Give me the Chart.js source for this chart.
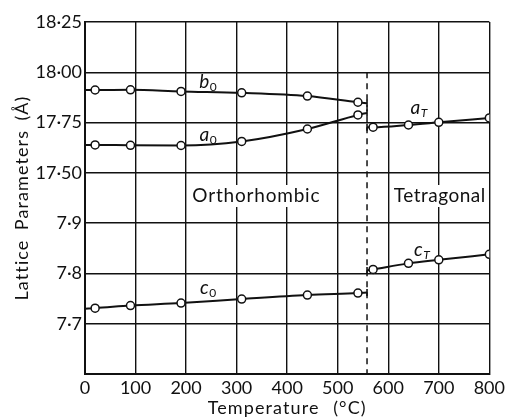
<!DOCTYPE html>
<html><head><meta charset="utf-8">
<script src="https://cdn.jsdelivr.net/npm/chart.js@4/dist/chart.umd.min.js"></script>
<style>html,body{margin:0;padding:0;background:#fff}#wrap{width:508px;height:419px;position:relative}</style>
</head><body><div id="wrap"><canvas id="c"></canvas></div>
<script>
// ---- data ----
const orthoTemps = [20, 90, 190, 310, 440, 540];
const b0Values = [17.912, 17.913, 17.905, 17.898, 17.882, 17.851];
const a0Values = [17.639, 17.637, 17.636, 17.656, 17.718, 17.788];
const c0Values = [7.731, 7.736, 7.741, 7.749, 7.757, 7.761];
const tetraTemps = [570, 640, 700, 800];
const aTValues = [17.727, 17.738, 17.751, 17.773];
const cTValues = [7.808, 7.820, 7.827, 7.838];
const transitionTemp = 558;
const orthoStartTemp = 0;
const b0LineEnds = [17.912, 17.846];
const a0LineEnds = [17.639, 17.798];
const c0LineEnds = [7.730, 7.762];
const aTLineStart = 17.727;
const cTLineStart = 7.806;
const xTicks = [0, 100, 200, 300, 400, 500, 600, 700, 800];
const yTickLabels = ['', '7·7', '7·8', '7·9', '17·50', '17·75', '18·00', '18·25'];

// broken axis: lower band 7.6–7.9 (0.1 per step), upper band 17.50–18.25 (0.25 per step)
function toAxis(v) { return v > 10 ? 4 + (v - 17.5) / 0.25 : (v - 7.6) / 0.1; }

const FONT = 'Lato';
const INK = '#111';

function orthoSeries(vals, ends) {
  const pts = [{x: orthoStartTemp, y: toAxis(ends[0])}];
  orthoTemps.forEach((t, i) => pts.push({x: t, y: toAxis(vals[i])}));
  pts.push({x: transitionTemp, y: toAxis(ends[1])});
  return pts;
}
function tetraSeries(vals, start) {
  const pts = [{x: transitionTemp, y: toAxis(start)}];
  tetraTemps.forEach((t, i) => pts.push({x: t, y: toAxis(vals[i])}));
  return pts;
}
function radii(n, skipFirst, skipLast) {
  return Array.from({length: n}, (_, i) => ((skipFirst && i === 0) || (skipLast && i === n - 1)) ? 0 : 4);
}
function lineDs(data, r, endIdx) {
  return {data, pointRadius: r, pointHoverRadius: r, borderColor: INK, borderWidth: 2,
    pointBackgroundColor: '#fff', pointBorderColor: INK, pointBorderWidth: 1.5,
    cubicInterpolationMode: 'monotone', fill: false, endTick: endIdx};
}

const b0 = orthoSeries(b0Values, b0LineEnds);
const a0 = orthoSeries(a0Values, a0LineEnds);
const c0 = orthoSeries(c0Values, c0LineEnds);
const aT = tetraSeries(aTValues, aTLineStart);
const cT = tetraSeries(cTValues, cTLineStart);

const datasets = [
  {data: [{x: transitionTemp, y: toAxis(18.0)}, {x: transitionTemp, y: 0}], borderColor: INK, borderWidth: 1.5,
   borderDash: [6, 5], pointRadius: 0, fill: false},
  lineDs(b0, radii(b0.length, true, true), b0.length - 1),
  lineDs(a0, radii(a0.length, true, true), a0.length - 1),
  lineDs(c0, radii(c0.length, true, true), c0.length - 1),
  lineDs(aT, radii(aT.length, true, false), 0),
  lineDs(cT, radii(cT.length, true, false), 0),
];

// text annotations (positions in data units)
const seriesLabels = [
  {main: 'b', sub: '0', x: 244, y: 5.79},
  {main: 'a', sub: '0', x: 244, y: 4.73},
  {main: 'c', sub: '0', x: 244, y: 1.70},
  {main: 'a', sub: 'T', x: 661, y: 5.27},
  {main: 'c', sub: 'T', x: 667, y: 2.44},
];
const regionLabels = [
  {text: 'Orthorhombic', x: 339, y: 3.54, w: 128},
  {text: 'Tetragonal', x: 702, y: 3.54, w: 92},
];

function spacedText(ctx, text, cx, cy, target, ls) {
  ctx.letterSpacing = ls + 'px';
  ctx.wordSpacing = '0px';
  const w = ctx.measureText(text).width;
  const nSpaces = (text.match(/ /g) || []).length;
  if (nSpaces > 0) {
    ctx.wordSpacing = Math.max(0, (target - w) / nSpaces) + 'px';
  } else {
    ctx.letterSpacing = (ls + Math.max(0, (target - w) / text.length)) + 'px';
  }
  ctx.fillText(text, cx, cy);
  ctx.letterSpacing = '0px';
  ctx.wordSpacing = '0px';
}

const decor = {
  id: 'decor',
  beforeDatasetsDraw(chart) {
    const {ctx, scales: {x, y}} = chart;
    ctx.save();
    ctx.font = '19px ' + FONT;
    ctx.textAlign = 'center'; ctx.textBaseline = 'middle';
    regionLabels.forEach(l => {
      const px = x.getPixelForValue(l.x), py = y.getPixelForValue(l.y);
      ctx.fillStyle = '#fff';
      ctx.fillRect(px - l.w / 2 - 3, py - 11, l.w + 6, 22);
      ctx.fillStyle = INK;
      spacedText(ctx, l.text, px, py, l.w, 0);
    });
    ctx.restore();
  },
  afterDatasetsDraw(chart) {
    const {ctx, scales: {x, y}} = chart;
    ctx.save();
    ctx.strokeStyle = INK; ctx.lineWidth = 1.6;
    chart.data.datasets.forEach((ds, i) => {
      if (ds.endTick === undefined) return;
      const el = chart.getDatasetMeta(i).data[ds.endTick];
      ctx.beginPath(); ctx.moveTo(el.x, el.y - 3.5); ctx.lineTo(el.x, el.y + 3.5); ctx.stroke();
    });
    ctx.fillStyle = INK;
    ctx.textBaseline = 'alphabetic';
    seriesLabels.forEach(l => {
      const px = x.getPixelForValue(l.x), py = y.getPixelForValue(l.y);
      const mainFont = 'italic 19px ' + FONT;
      const subFont = (l.sub === 'T' ? 'italic ' : '') + '12px ' + FONT;
      ctx.font = mainFont;
      const w1 = ctx.measureText(l.main).width;
      ctx.font = subFont;
      const w2 = ctx.measureText(l.sub).width;
      const left = px - (w1 + w2 + 1) / 2;
      ctx.textAlign = 'left';
      ctx.font = mainFont;
      ctx.fillText(l.main, left, py + 5);
      ctx.font = subFont;
      ctx.fillText(l.sub, left + w1 + 0.5, py + 8);
    });
    const ca = chart.chartArea;
    ctx.font = '18px ' + FONT;
    ctx.textAlign = 'center'; ctx.textBaseline = 'middle';
    spacedText(ctx, 'Temperature (°C)', (ca.left + ca.right) / 2, 408, 159, 1.1);
    ctx.translate(22, (ca.top + ca.bottom) / 2);
    ctx.rotate(-Math.PI / 2);
    spacedText(ctx, 'Lattice Parameters (Å)', 0, 0, 205, 1.1);
    ctx.restore();
  }
};

new Chart(document.getElementById('c'), {
  type: 'line',
  data: {datasets},
  options: {
    responsive: true, maintainAspectRatio: false, animation: false, devicePixelRatio: 1,
    layout: {padding: {top: 22, right: 15, left: 0, bottom: 0}},
    plugins: {legend: {display: false}, tooltip: {enabled: false}},
    scales: {
      x: {type: 'linear', min: 0, max: 800,
        afterBuildTicks: s => { s.ticks = xTicks.map(v => ({value: v})); },
        afterFit: s => { s.height = 45; },
        ticks: {color: INK, font: {family: FONT, size: 18}, padding: 3, maxRotation: 0},
        grid: {color: INK, lineWidth: 1.4, drawTicks: false},
        border: {color: INK, width: 2}},
      y: {type: 'linear', min: 0, max: 7,
        afterBuildTicks: s => { s.ticks = yTickLabels.map((_, i) => ({value: i})); },
        afterFit: s => { s.width = 85; },
        ticks: {color: INK, font: {family: FONT, size: 18}, padding: 3, callback: v => yTickLabels[v]},
        grid: {color: INK, lineWidth: 1.4, drawTicks: false},
        border: {color: INK, width: 2}}
    }
  },
  plugins: [decor]
});
</script></body></html>
